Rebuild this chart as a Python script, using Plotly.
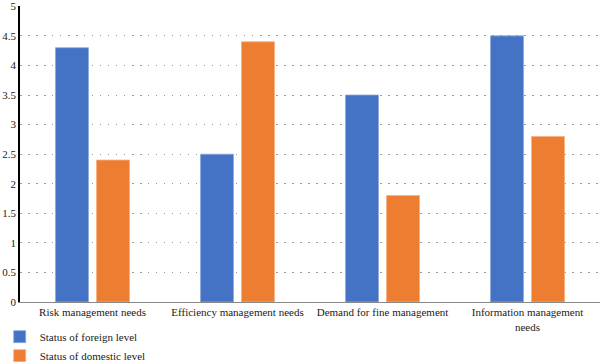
import plotly.graph_objects as go

categories = ["Risk management needs", "Efficiency management needs",
              "Demand for fine management", "Information management<br>needs"]
foreign = [4.3, 2.5, 3.5, 4.5]
domestic = [2.4, 4.4, 1.8, 2.8]
series_names = ["Status of foreign level", "Status of domestic level"]
tick_vals = [0, 0.5, 1, 1.5, 2, 2.5, 3, 3.5, 4, 4.5, 5]
tick_text = ["0", "0.5", "1", "1.5", "2", "2.5", "3", "3.5", "4", "4.5", "5"]

font = "'Liberation Serif', 'Times New Roman', serif"

fig = go.Figure()
fig.add_trace(go.Bar(x=categories, y=foreign, name=series_names[0],
                     marker=dict(color="#4472C4", line=dict(color="#8FAADC", width=0.8))))
fig.add_trace(go.Bar(x=categories, y=domestic, name=series_names[1],
                     marker=dict(color="#ED7D31", line=dict(color="#F4B183", width=0.8))))

fig.update_layout(
    width=600, height=362,
    margin=dict(l=20, r=0, t=6, b=60, autoexpand=False),
    paper_bgcolor="white", plot_bgcolor="white",
    barmode="group", bargap=0.434, bargroupgap=0.195,
    font=dict(family=font, size=11, color="#1a1a1a"),
    showlegend=True,
    legend=dict(orientation="v", x=-0.035, xanchor="left", y=-0.068, yanchor="top",
                font=dict(family=font, size=11, color="#1a1a1a"),
                tracegroupgap=0, itemwidth=30, bgcolor="rgba(0,0,0,0)"),
)
fig.update_xaxes(showline=True, linecolor="#888", linewidth=1, ticks="",
                 showgrid=False, automargin=False, tickangle=0,
                 tickfont=dict(family=font, size=11, color="#1a1a1a"))
fig.update_yaxes(range=[0, 5.005], tickvals=tick_vals, ticktext=tick_text,
                 showline=True, linecolor="#000", linewidth=1.5,
                 showgrid=True, gridcolor="#9A9A9A", griddash="1.5px,6.5px", gridwidth=1.3,
                 zeroline=False, ticks="", ticklen=0, automargin=False,
                 ticklabeloverflow="allow",
                 tickfont=dict(family=font, size=11, color="#1a1a1a"))

fig.write_html("out.html", config={"displayModeBar": False},
               post_script="document.body.style.margin='0';")
